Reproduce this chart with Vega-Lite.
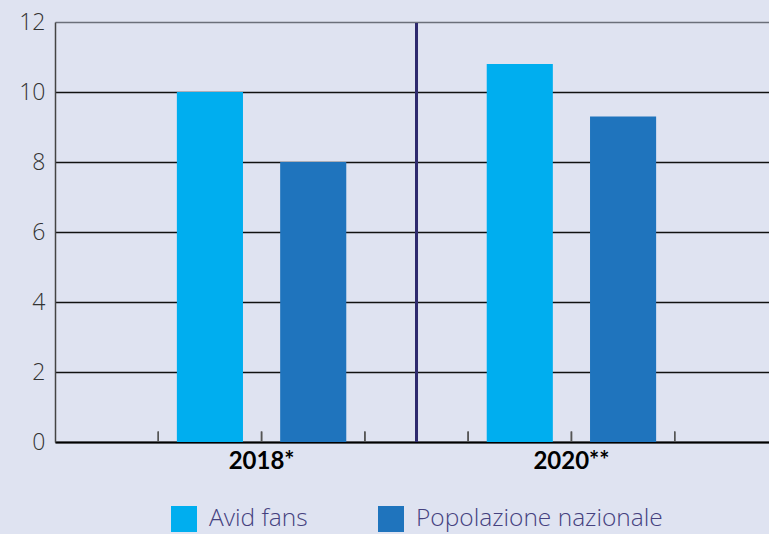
{
  "$schema": "https://vega.github.io/schema/vega-lite/v6.json",
  "width": 723,
  "height": 420,
  "autosize": {"type": "none"},
  "padding": {"left": 55, "top": 22, "right": 0, "bottom": 92},
  "background": "#dfe3f1",
  "config": {
    "view": {"stroke": null},
    "font": "Lato"
  },
  "data": {
    "values": [
      {"year": "2018*", "group": "Avid fans", "value": 10},
      {"year": "2018*", "group": "Popolazione nazionale", "value": 8},
      {"year": "2020**", "group": "Avid fans", "value": 10.8},
      {"year": "2020**", "group": "Popolazione nazionale", "value": 9.3}
    ]
  },
  "layer": [
    {
      "mark": {"type": "bar"},
      "encoding": {
        "x": {
          "field": "year", "type": "nominal", "sort": null,
          "scale": {"paddingInner": 0.3333, "paddingOuter": 0.3333},
          "axis": {
            "title": null, "labelAngle": 0, "ticks": false,
            "domainColor": "#000", "domainWidth": 2,
            "labelFontSize": 24, "labelFontWeight": "bold", "labelColor": "#000",
            "labelPadding": 7
          }
        },
        "xOffset": {
          "field": "group", "type": "nominal",
          "scale": {"paddingInner": 0.36, "paddingOuter": 0.18}
        },
        "y": {
          "field": "value", "type": "quantitative",
          "scale": {"domain": [0, 12], "nice": false},
          "axis": {
            "title": null, "values": [0, 2, 4, 6, 8, 10, 12],
            "ticks": false, "labelPadding": 10,
            "labelFont": "Open Sans",
            "labelFontSize": 23, "labelFontWeight": 300, "labelColor": "#333",
            "domainColor": "#444", "domainWidth": 1.5,
            "gridColor": {"expr": "datum.value == 12 ? '#6b6f7a' : '#111'"},
            "gridWidth": 1.3
          }
        },
        "color": {
          "field": "group", "type": "nominal",
          "scale": {"domain": ["Avid fans", "Popolazione nazionale"], "range": ["#00aeef", "#1f74bd"]},
          "legend": {
            "title": null, "orient": "none", "direction": "horizontal",
            "legendX": 116, "legendY": 484, "padding": 0,
            "symbolType": "square", "symbolSize": 676, "symbolStrokeWidth": 0,
            "labelFont": "Open Sans",
            "labelFontSize": 24.5, "labelFontWeight": 300, "labelColor": "#45417f",
            "labelLimit": 400,
            "columnPadding": 70, "labelOffset": 12
          }
        }
      }
    },
    {
      "mark": {"type": "rule", "color": "#555", "strokeWidth": 1.5},
      "encoding": {
        "x": {"field": "year", "type": "nominal", "bandPosition": 0},
        "y": {"datum": 0},
        "y2": {"datum": 0.3}
      }
    },
    {
      "mark": {"type": "rule", "color": "#555", "strokeWidth": 1.5},
      "encoding": {
        "x": {"field": "year", "type": "nominal", "bandPosition": 0.5},
        "y": {"datum": 0},
        "y2": {"datum": 0.3}
      }
    },
    {
      "mark": {"type": "rule", "color": "#555", "strokeWidth": 1.5},
      "encoding": {
        "x": {"field": "year", "type": "nominal", "bandPosition": 1},
        "y": {"datum": 0},
        "y2": {"datum": 0.3}
      }
    },
    {
      "transform": [{"filter": "datum.year == '2018*'"}],
      "mark": {"type": "rule", "color": "#2e2a6e", "strokeWidth": 3},
      "encoding": {
        "x": {"field": "year", "type": "nominal", "bandPosition": 1.25},
        "y": {"datum": 0},
        "y2": {"datum": 11.97}
      }
    }
  ]
}
